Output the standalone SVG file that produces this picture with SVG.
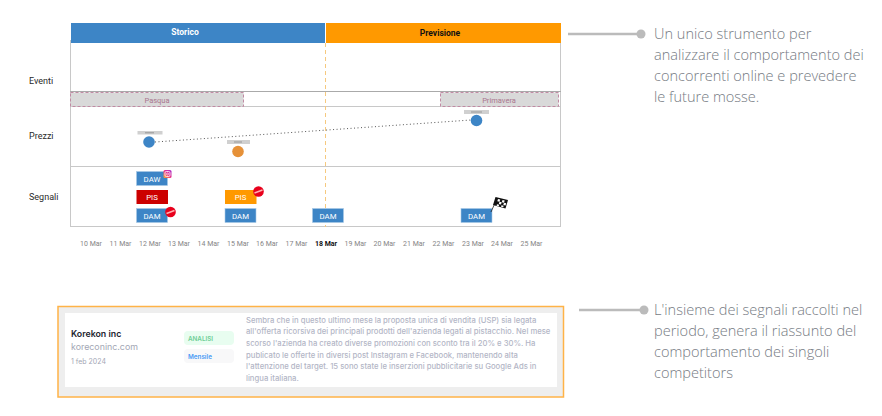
<svg xmlns="http://www.w3.org/2000/svg" width="882" height="416" viewBox="0 0 882 416">
<defs><linearGradient id="ig" x1="0" y1="1" x2="1" y2="0"><stop offset="0" stop-color="#ffb020"/><stop offset=".5" stop-color="#e8308a"/><stop offset="1" stop-color="#a030d0"/></linearGradient></defs>
<style>
text{font-family:Roboto,"Liberation Sans",sans-serif}
.hd{font-size:8.5px;font-weight:700;text-anchor:middle}
.row{font-size:9px;font-weight:400;fill:#2a2a2a}
.band{fill:#d9d9d9;stroke:#c08aa3;stroke-width:1;stroke-dasharray:3 2}
.bandt{font-size:7.500px;fill:#a9758e;text-anchor:middle}
.grid{stroke:#c8c8c8;stroke-width:1;fill:none}
.sig{font-size:7.800px;fill:#fff;text-anchor:middle}
.b{fill:#3d85c6;stroke:#a9c9e6;stroke-width:.6}
.tag{fill:#d0d0d0}
.tick{stroke:#888;stroke-width:.8}
.date{font-size:7px;fill:#858585;text-anchor:middle}
.side{font-family:"Open Sans","Liberation Sans",sans-serif;font-size:14.550px;font-weight:300;fill:#767b83}
.lead{stroke:#bbb;stroke-width:2.500}
.card{font-family:Inter,"Liberation Sans",sans-serif}
.body{font-family:Inter,"Liberation Sans",sans-serif;font-size:7.700px;font-weight:500;fill:#b3b6c6}
</style>
<g id="chart">
<path class="grid" d="M70.500 40V227M560.500 40V227"/>
<path class="grid" d="M70 91.500H561" style="stroke:#aaa"/>
<path class="grid" d="M70 106.500H561M70 166.500H561M70 226.500H560"/>
<path d="M325.500 43V227" stroke="#f6c97f" stroke-width="1" stroke-dasharray="4 3" fill="none"/>
</g>
<g id="storico"><rect x="71" y="23" width="254" height="20" fill="#3d85c6"/><text class="hd" x="185" y="35" fill="#fff">Storico</text></g>
<g id="previsione"><rect x="326" y="23" width="235" height="20" fill="#ff9900"/><text class="hd" x="440" y="36" fill="#111">Previsione</text></g>
<g id="row-labels"><text class="row" x="29" y="84">Eventi</text><text class="row" x="29" y="139">Prezzi</text><text class="row" x="29" y="200">Segnali</text></g>
<g id="pasqua"><rect class="band" x="70.500" y="92.500" width="173" height="14"/><text class="bandt" x="157" y="102.500">Pasqua</text></g>
<g id="primavera"><rect class="band" x="440.500" y="92.500" width="118" height="14"/><text class="bandt" x="499" y="102.500">Primavera</text></g>
<g id="connectors"><path d="M155 142L471 120" stroke="#555" stroke-width="1" stroke-dasharray="1 2.500" fill="none"/></g>
<g id="prezzo-1"><rect class="tag" x="137.500" y="131" width="25" height="3.500"/><path class="tick" d="M145 132.800H154"/><circle cx="149" cy="142" r="5.800" fill="#3d85c6"/></g>
<g id="prezzo-2"><rect class="tag" x="227" y="140" width="23" height="4"/><path class="tick" d="M234 142H242"/><circle cx="238" cy="151.500" r="5.800" fill="#e69138"/></g>
<g id="prezzo-3"><rect class="tag" x="464" y="110" width="25" height="4"/><path class="tick" d="M471 112H482"/><circle cx="476.500" cy="120.500" r="5.800" fill="#3d85c6"/></g>
<g id="daw"><rect class="b" x="136.500" y="171.500" width="31" height="14"/><text class="sig" x="152" y="181.500">DAW</text>
<rect x="163.500" y="170" width="8" height="8" rx="1.500" fill="url(#ig)"/><rect x="165" y="171.500" width="5" height="5" rx="1.300" fill="none" stroke="#fff" stroke-width=".8"/><circle cx="167.500" cy="174" r="1" fill="none" stroke="#fff" stroke-width=".6"/></g>
<g id="pis-1"><rect x="136.500" y="190" width="31.500" height="14" fill="#cc0000"/><text class="sig" x="152" y="200">PIS</text></g>
<g id="dam-1"><rect class="b" x="136.500" y="208.500" width="31" height="14"/><text class="sig" x="152" y="218.500">DAM</text>
<circle cx="170.500" cy="212" r="5.300" fill="#e8001c"/><path d="M166.500 213.500L174.500 210.500" stroke="#ffb0b0" stroke-width="1.600"/></g>
<g id="pis-2"><rect x="225" y="190" width="31.500" height="14" fill="#ff9900"/><text class="sig" x="240.500" y="200">PIS</text>
<circle cx="258.500" cy="191.500" r="5.300" fill="#e8001c"/><path d="M254.500 193L262.500 190" stroke="#ffb0b0" stroke-width="1.600"/></g>
<g id="dam-2"><rect class="b" x="225" y="208.500" width="31" height="14"/><text class="sig" x="240.500" y="218.500">DAM</text></g>
<g id="dam-3"><rect class="b" x="312.500" y="208.500" width="31" height="14"/><text class="sig" x="328" y="218.500">DAM</text></g>
<g id="dam-4"><rect class="b" x="461" y="208.500" width="31" height="14"/><text class="sig" x="476.500" y="218.500">DAM</text>
<path d="M491 212L495 203" stroke="#222" stroke-width=".8"/>
<path d="M495.500 197L508 200L505.500 208.500L493 205Z" fill="#111"/>
<g fill="#fff"><path d="M498 199l2.200.5-.7 2.300-2.200-.5zM502.500 200l2.200.5-.7 2.300-2.200-.5zM499.500 201.800l2.200.5-.7 2.300-2.200-.5zM504 202.800l2.200.5-.7 2.300-2.200-.5zM497 204.300l2.200.5-.5 1.400-2.200-.5zM501.500 205.200l2.200.5-.5 1.600-2.200-.5z"/></g></g>
<g id="dates">
<text class="date" x="91" y="246">10 Mar</text><text class="date" x="120.500" y="246">11 Mar</text><text class="date" x="150" y="246">12 Mar</text><text class="date" x="179" y="246">13 Mar</text><text class="date" x="208.500" y="246">14 Mar</text><text class="date" x="238" y="246">15 Mar</text><text class="date" x="267" y="246">16 Mar</text><text class="date" x="296.500" y="246">17 Mar</text><text class="date" x="326" y="246" font-weight="700" style="fill:#111">18 Mar</text><text class="date" x="355.500" y="246">19 Mar</text><text class="date" x="384.500" y="246">20 Mar</text><text class="date" x="414" y="246">21 Mar</text><text class="date" x="443.500" y="246">22 Mar</text><text class="date" x="473" y="246">23 Mar</text><text class="date" x="502" y="246">24 Mar</text><text class="date" x="531.500" y="246">25 Mar</text>
</g>
<g id="note-1"><path class="lead" d="M568 34H641"/><circle cx="641" cy="34" r="4.500" fill="#bbb"/>
<text class="side" x="654" y="39">Un unico strumento per</text><text class="side" x="654" y="60">analizzare il comportamento dei</text><text class="side" x="654" y="81">concorrenti online e prevedere</text><text class="side" x="654" y="102">le future mosse.</text></g>
<g id="summary-card">
<rect x="58" y="306.500" width="505.500" height="90.500" fill="#eeeeee" stroke="#ffb347" stroke-width="1.500"/>
<rect x="65" y="313" width="492" height="74" fill="#fff"/>
<text class="card" x="71" y="337" font-size="8.800" font-weight="600" fill="#23262f">Korekon inc</text>
<text class="card" x="71" y="350" font-size="8.850" fill="#a3a7b5">koreconinc.com</text>
<text class="card" x="71" y="364" font-size="7" fill="#a3a7b5">1 feb 2024</text>
<rect x="184" y="331" width="50" height="14" rx="4" fill="#e8fdf0"/><text class="card" x="188" y="340.500" font-size="6.300" font-weight="600" fill="#6fcf97">ANALISI</text>
<rect x="184" y="349" width="50" height="14" rx="4" fill="#f8f8f9"/><text class="card" x="188" y="358.500" font-size="6.300" font-weight="600" fill="#4a9cf5">Mensile</text>
<text class="body" x="246" y="322.500">Sembra che in questo ultimo mese la proposta unica di vendita (USP) sia legata</text>
<text class="body" x="246" y="334">all'offerta ricorsiva dei principali prodotti dell'azienda legati al pistacchio. Nel mese</text>
<text class="body" x="246" y="346">scorso l'azienda ha creato diverse promozioni con sconto tra il 20% e 30%. Ha</text>
<text class="body" x="246" y="357.500">publicato le offerte in diversi post Instagram e Facebook, mantenendo alta</text>
<text class="body" x="246" y="369">l'attenzione del target. 15 sono state le inserzioni pubblicitarie su Google Ads in</text>
<text class="body" x="246" y="381">lingua italiana.</text>
</g>
<g id="note-2"><path class="lead" d="M579 310H643"/><circle cx="644" cy="310" r="4.500" fill="#bbb"/>
<text class="side" x="654" y="315">L'insieme dei segnali raccolti nel</text><text class="side" x="654" y="336">periodo, genera il riassunto del</text><text class="side" x="654" y="357">comportamento dei singoli</text><text class="side" x="654" y="378">competitors</text></g>
</svg>
